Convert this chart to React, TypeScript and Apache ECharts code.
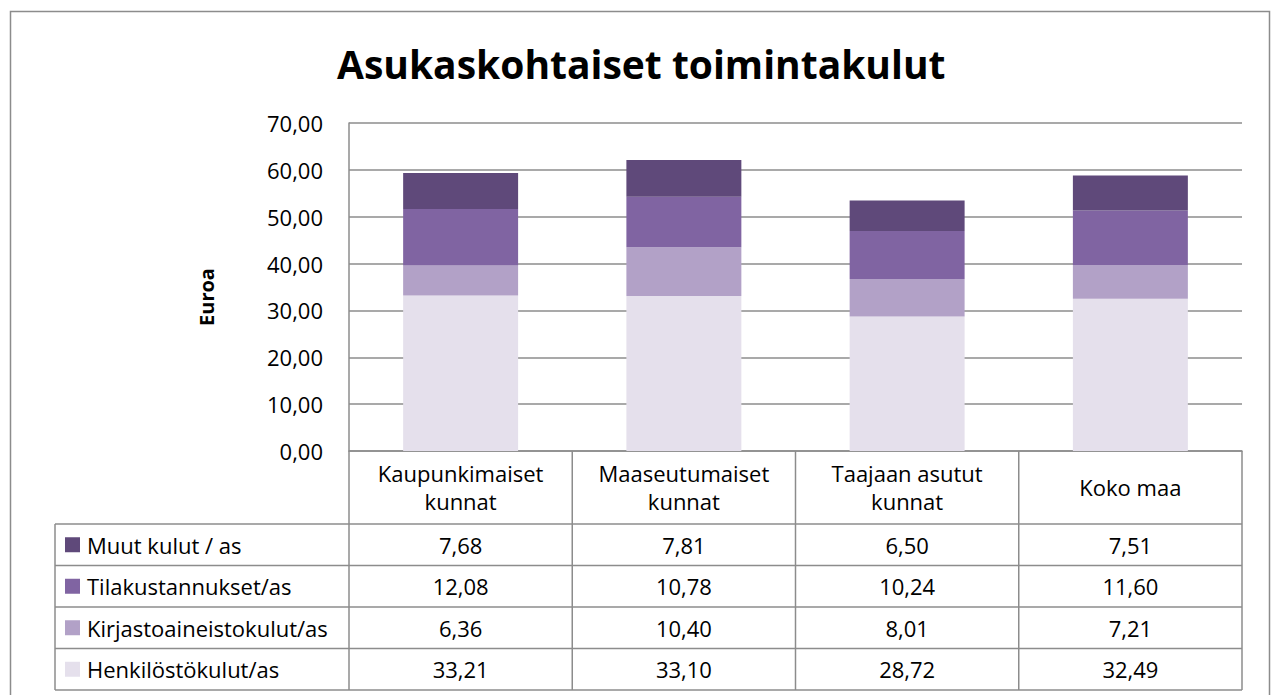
import React, { useEffect, useRef } from "react";
import * as echarts from "echarts";

const categories = ["Kaupunkimaiset kunnat", "Maaseutumaiset kunnat", "Taajaan asutut kunnat", "Koko maa"];
const seriesNames = ["Henkilöstökulut/as", "Kirjastoaineistokulut/as", "Tilakustannukset/as", "Muut kulut / as"];
const henkilosto = [33.21, 33.1, 28.72, 32.49];
const kirjasto = [6.36, 10.4, 8.01, 7.21];
const tila = [12.08, 10.78, 10.24, 11.6];
const muut = [7.68, 7.81, 6.5, 7.51];
const colors = ["#E5E0EC", "#B2A1C7", "#8064A2", "#5F497A"];
const yTicks = [0, 10, 20, 30, 40, 50, 60, 70];

const W = 1271;
const H = 695;
const plotL = 349;
const plotR = 1242;
const plotT = 123;
const plotB = 451;
const headerB = 524;
const rowH = 41.5;
const tableL = 55;
const FONT = "Open Sans";
const LINE = "#8C8C8C";
const FS = 22;

const fmt = (v: number) => v.toFixed(2).replace(".", ",");

export default function App() {
  const ref = useRef<HTMLDivElement>(null);
  useEffect(() => {
    if (!ref.current) return;
    const chart = echarts.init(ref.current, null, { renderer: "svg" });
    const values = [henkilosto, kirjasto, tila, muut];
    const colW = (plotR - plotL) / categories.length;
    const tableB = headerB + rowH * 4;
    const graphic: any[] = [];
    graphic.push({ type: "rect", shape: { x: 10.5, y: 11.5, width: 1259, height: 700 }, style: { fill: "none", stroke: LINE, lineWidth: 1.5 }, silent: true });
    for (let i = 1; i <= categories.length; i++) {
      const x = plotL + colW * i;
      graphic.push({ type: "line", shape: { x1: x, y1: plotB, x2: x, y2: tableB }, style: { stroke: LINE, lineWidth: 1.5 } });
    }
    graphic.push({ type: "line", shape: { x1: plotL, y1: plotB, x2: plotL, y2: tableB }, style: { stroke: LINE, lineWidth: 1.5 } });
    graphic.push({ type: "line", shape: { x1: tableL, y1: headerB, x2: tableL, y2: tableB }, style: { stroke: LINE, lineWidth: 1.5 } });
    for (let r = 0; r <= 4; r++) {
      const y = headerB + rowH * r;
      graphic.push({ type: "line", shape: { x1: tableL, y1: y, x2: plotR, y2: y }, style: { stroke: LINE, lineWidth: 1.5 } });
    }
    for (let r = 0; r < 4; r++) {
      const si = 3 - r;
      const cy = headerB + rowH * r + rowH / 2;
      graphic.push({ type: "rect", shape: { x: 65, y: cy - 7.5, width: 15, height: 15 }, style: { fill: colors[si] } });
      graphic.push({ type: "text", x: 87, y: cy, style: { text: seriesNames[si], font: `${FS}px '${FONT}'`, fill: "#000", verticalAlign: "middle", align: "left" } });
      for (let c = 0; c < categories.length; c++) {
        graphic.push({ type: "text", x: plotL + colW * (c + 0.5), y: cy, style: { text: fmt(values[si][c]), font: `${FS}px '${FONT}'`, fill: "#000", verticalAlign: "middle", align: "center" } });
      }
    }
    graphic.push({ type: "text", x: 206, y: 297, rotation: Math.PI / 2, style: { text: "Euroa", font: `bold 20px '${FONT}'`, fill: "#000", align: "center", verticalAlign: "middle" } });

    chart.setOption({
      animation: false,
      title: {
        text: "Asukaskohtaiset toimintakulut",
        left: 332,
        top: 39,
        textStyle: { fontFamily: FONT, fontWeight: "bold", fontSize: 39, color: "#000" },
      },
      grid: { left: plotL, right: W - plotR, top: plotT, bottom: H - plotB, containLabel: false },
      xAxis: {
        type: "category",
        data: categories,
        axisLine: { show: true, lineStyle: { color: LINE, width: 1.5 } },
        axisTick: { show: false },
        axisLabel: {
          interval: 0,
          margin: 36,
          verticalAlign: "middle",
          fontFamily: FONT,
          fontSize: FS,
          lineHeight: 28,
          color: "#000",
          formatter: (v: string) => v.replace(" kunnat", "\nkunnat"),
        },
      },
      yAxis: {
        type: "value",
        min: yTicks[0],
        max: yTicks[yTicks.length - 1],
        interval: 10,
        axisLine: { show: true, lineStyle: { color: LINE, width: 1.5 } },
        axisTick: { show: false },
        splitLine: { lineStyle: { color: LINE, width: 1.5 } },
        axisLabel: { margin: 26, fontFamily: FONT, fontSize: FS, color: "#000", formatter: (v: number) => fmt(v) },
      },
      series: values.map((d, i) => ({
        name: seriesNames[i],
        type: "bar",
        stack: "total",
        data: d,
        barWidth: "51.5%",
        itemStyle: { color: colors[i] },
      })),
      graphic,
    });
    return () => chart.dispose();
  }, []);
  return <div ref={ref} style={{ position: "fixed", left: 0, top: 0, width: W, height: H, background: "#fff" }} />;
}
